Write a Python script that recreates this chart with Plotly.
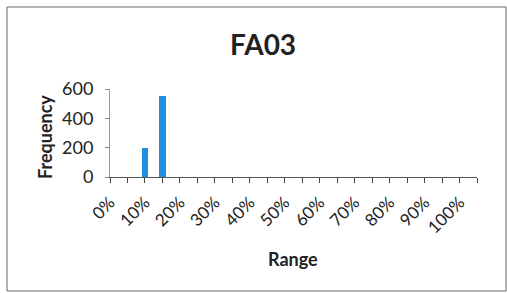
import plotly.graph_objects as go

categories = ["0%", "5%", "10%", "15%", "20%", "25%", "30%", "35%", "40%", "45%", "50%",
              "55%", "60%", "65%", "70%", "75%", "80%", "85%", "90%", "95%", "100%", "More"]
frequency = [0, 0, 200, 550, 0, 0, 0, 0, 0, 0, 0, 0, 0, 0, 0, 0, 0, 0, 0, 0, 0, 0]
tick_labels = [c if i % 2 == 0 and c != "More" else "" for i, c in enumerate(categories)]
y_ticks = [0, 200, 400, 600]

W, H = 507, 293
ML, MR, MT, MB = 110, 30, 89, 116
PW = W - ML - MR
PH = H - MT - MB

def px_x(p):
    return (p - ML) / PW

def px_y(p):
    return (H - MB - p) / PH

FONT = "Lato, 'Open Sans', sans-serif"

fig = go.Figure()
fig.add_trace(go.Bar(x=categories, y=frequency, width=0.37,
                     marker=dict(color="#1F8FE0", line=dict(width=0))))

fig.update_layout(
    width=W, height=H,
    margin=dict(l=ML, r=MR, t=MT, b=MB),
    paper_bgcolor="white", plot_bgcolor="white",
    showlegend=False,
    bargap=0,
    font=dict(family=FONT, color="#222222"),
    xaxis=dict(
        type="category", range=[0, 21],
        tickmode="array", tickvals=categories, ticktext=tick_labels,
        tickangle=-45, tickfont=dict(size=17, color="#222222"),
        ticks="outside", ticklen=5, tickcolor="#444444", tickwidth=1,
        ticklabelstandoff=3,
        showline=True, linecolor="#555555", linewidth=1,
        showgrid=False, zeroline=False,
    ),
    yaxis=dict(
        range=[0, 600], tickvals=y_ticks,
        tickfont=dict(size=18, color="#222222"),
        ticks="outside", ticklen=4, tickcolor="#888888",
        ticklabelstandoff=8,
        showline=True, linecolor="#999999", linewidth=1,
        showgrid=False, zeroline=False,
    ),
    shapes=[dict(type="rect", xref="paper", yref="paper",
                 x0=px_x(7), x1=px_x(506), y0=px_y(291), y1=px_y(7),
                 line=dict(color="#666666", width=1), fillcolor="rgba(0,0,0,0)",
                 layer="below")],
    annotations=[
        dict(text="<b>FA03</b>", xref="paper", yref="paper",
             x=px_x(263), y=px_y(44), xanchor="center", yanchor="middle",
             showarrow=False, font=dict(size=28, color="#222222", family=FONT)),
        dict(text="<b>Range</b>", xref="paper", yref="paper",
             x=px_x(293), y=px_y(259), xanchor="center", yanchor="middle",
             showarrow=False, font=dict(size=18, color="#222222", family=FONT)),
        dict(text="<b>Frequency</b>", xref="paper", yref="paper",
             x=px_x(45), y=px_y(137), xanchor="center", yanchor="middle",
             textangle=-90,
             showarrow=False, font=dict(size=18, color="#222222", family=FONT)),
    ],
)

fig.write_html("out.html",
               config={"displayModeBar": False},
               post_script="document.body.style.margin='0';document.body.style.overflow='hidden';")
